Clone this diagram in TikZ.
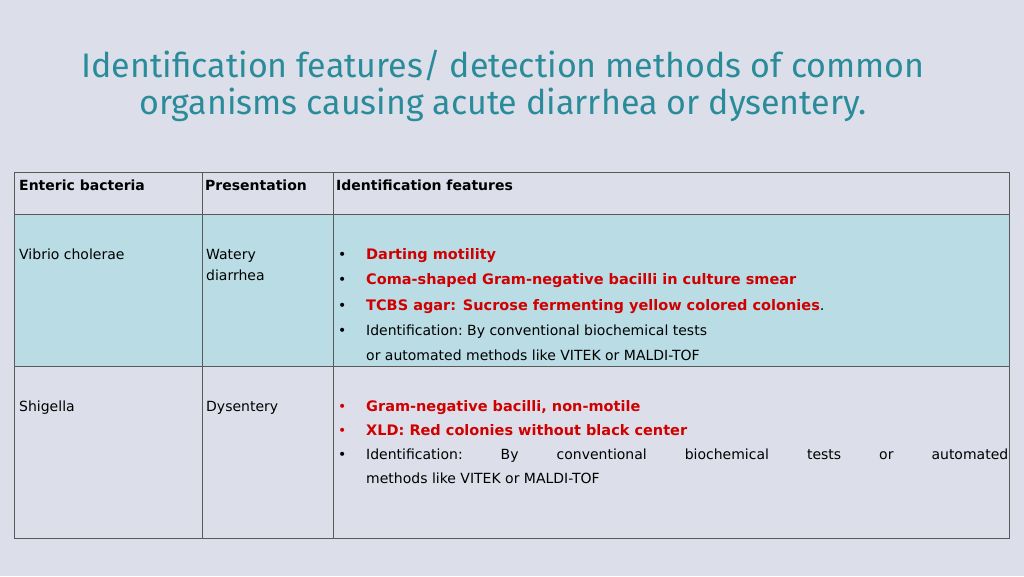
\documentclass[tikz,border=0pt]{standalone}
\usepackage{fontspec}
\setmainfont{DejaVu Sans}
\newfontfamily\ttlfont{Fira Sans}
\definecolor{bg}{HTML}{DCDFE9}
\definecolor{rowb}{HTML}{B9DCE5}
\definecolor{ttl}{HTML}{2A8C9A}
\definecolor{rd}{HTML}{D00000}
\begin{document}
\begin{tikzpicture}[x=1pt,y=-1pt,
 cell/.style={anchor=base west,inner sep=0pt,font=\fontsize{14}{24.5}\selectfont},
 bl/.style={cell,text=rd,font=\fontsize{14.5}{24.5}\selectfont\bfseries},
 dot/.style={cell}]
\fill[bg] (0,0) rectangle (1024,576);
\useasboundingbox (0,0) rectangle (1024,576);
\node[inner sep=0pt,align=center,text=ttl,font=\ttlfont\fontsize{34}{37}\selectfont] (title) at (503,86) {Identification features/ detection methods of common\\organisms causing acute diarrhea or dysentery.};
\fill[rowb] (14,214) rectangle (1009,366);
\draw[gray!70!black,line width=0.6pt] (14,172) rectangle (1009,538);
\draw[gray!70!black,line width=0.6pt] (14,214) -- (1009,214) (14,366) -- (1009,366)
 (202,172) -- (202,538) (333,172) -- (333,538);
\node[cell,font=\fontsize{14}{15}\selectfont\bfseries] (h1) at (19,190) {Enteric bacteria};
\node[cell,font=\fontsize{14}{15}\selectfont\bfseries] (h2) at (205,190) {Presentation};
\node[cell,font=\fontsize{14}{15}\selectfont\bfseries] (h3) at (336,190) {Identification features};
\node[cell] (a1) at (19,259) {Vibrio cholerae};
\node[cell] (a2) at (206,259) {Watery};
\node[cell] (a2b) at (206,280) {diarrhea};
\foreach \y in {259,284,310,335} \node[dot] at (338,\y) {•};
\node[bl] (b1) at (366,259) {Darting motility};
\node[bl] (b2) at (366,284) {Coma-shaped Gram-negative bacilli in culture smear};
\node[bl] (b3) at (366,310) {TCBS agar: Sucrose fermenting yellow colored colonies\textcolor{black}{\mdseries.}};
\node[cell] (b4) at (366,335) {Identification:\ By\ conventional\ biochemical\ tests};
\node[cell] (b5) at (366,360) {or automated methods like VITEK or MALDI-TOF};
\node[cell] (c1) at (19,411) {Shigella};
\node[cell] (c2) at (206,411) {Dysentery};
\foreach \y in {411,435} \node[dot,text=rd] at (338,\y) {•};
\node[dot] at (338,459) {•};
\node[bl] (d1) at (366,411) {Gram-negative bacilli, non-motile};
\node[bl] (d2) at (366,435) {XLD: Red colonies without black center};
\node[cell] (d3) at (366,459) {\hbox to 642pt{Identification:\hfil By\hfil conventional\hfil biochemical\hfil tests\hfil or\hfil automated}};
\node[cell] (d4) at (366,483) {methods like VITEK or MALDI-TOF};
\end{tikzpicture}
\end{document}
